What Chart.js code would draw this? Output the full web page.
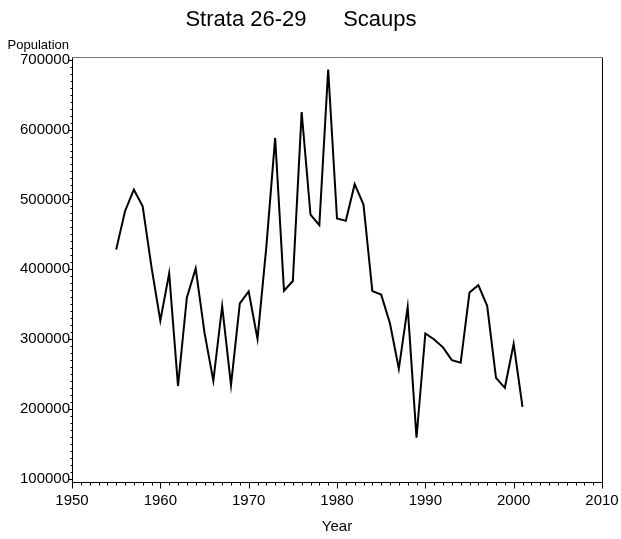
<!DOCTYPE html>
<html>
<head>
<meta charset="utf-8">
<script src="https://cdn.jsdelivr.net/npm/chart.js@4/dist/chart.umd.min.js"></script>
<style>
html,body{margin:0;padding:0;background:#fff;}
#wrap{width:621px;height:539px;position:relative;}
</style>
</head>
<body>
<div id="wrap"><canvas id="c" width="621" height="539"></canvas></div>
<script>
const titleText = 'Strata 26-29      Scaups';
const yAxisLabel = 'Population';
const xAxisLabel = 'Year';
const years = [1955,1956,1957,1958,1959,1960,1961,1962,1963,1964,1965,1966,1967,1968,1969,1970,
  1971,1972,1973,1974,1975,1976,1977,1978,1979,1980,1981,1982,1983,1984,1985,1986,1987,1988,1989,
  1990,1991,1992,1993,1994,1995,1996,1997,1998,1999,2000,2001];
const scaups = [428000,483000,514000,490000,403000,326000,394000,232500,359000,401000,309000,240000,
  347000,234000,351000,368000,300000,432000,588000,369000,383000,625000,478000,463000,686000,
  472600,469200,521700,492600,368500,363500,322200,257200,345600,158400,
  307900,299300,287900,269700,265800,366600,377100,347400,244300,230000,293000,202800];
const xTickLabels = [1950,1960,1970,1980,1990,2000,2010];
const yTickLabels = [100000,200000,300000,400000,500000,600000,700000];

const FONT = '"Liberation Sans", Arial, sans-serif';

const framePlugin = {
  id: 'frame',
  afterDraw(chart) {
    const {ctx, chartArea: a, scales} = chart;
    const xs = scales.x, ys = scales.y;
    ctx.save();
    ctx.lineWidth = 1;
    ctx.strokeStyle = '#000';
    ctx.beginPath();
    ctx.moveTo(a.left + 0.5, a.top);
    ctx.lineTo(a.left + 0.5, a.bottom + 0.5);
    ctx.lineTo(a.right + 0.5, a.bottom + 0.5);
    ctx.lineTo(a.right + 0.5, a.top);
    ctx.stroke();
    ctx.strokeStyle = '#777';
    ctx.beginPath();
    ctx.moveTo(a.left, a.top + 0.5);
    ctx.lineTo(a.right + 1, a.top + 0.5);
    ctx.stroke();
    // minor and major tick marks, placed through the scales
    ctx.strokeStyle = '#000';
    ctx.beginPath();
    for (let yr = xs.min; yr <= xs.max; yr++) {
      const px = Math.round(xs.getPixelForValue(yr)) + 0.5;
      const len = xTickLabels.includes(yr) ? 6 : 3;
      ctx.moveTo(px, a.bottom + 0.5);
      ctx.lineTo(px, a.bottom + 0.5 + len);
    }
    for (let v = 100000; v <= 700000; v += 10000) {
      const py = Math.round(ys.getPixelForValue(v)) + 0.5;
      const len = yTickLabels.includes(v) ? 4 : 2;
      ctx.moveTo(a.left + 0.5, py);
      ctx.lineTo(a.left + 0.5 - len, py);
    }
    ctx.stroke();
    ctx.fillStyle = '#000';
    ctx.font = '13px ' + FONT;
    ctx.textAlign = 'right';
    ctx.textBaseline = 'middle';
    ctx.fillText(yAxisLabel, a.left - 3, 45);
    ctx.restore();
  }
};

new Chart(document.getElementById('c'), {
  type: 'line',
  data: {
    datasets: [{
      data: years.map((y, i) => ({x: y, y: scaups[i]})),
      borderColor: '#000',
      borderWidth: 2,
      pointRadius: 0,
      tension: 0,
      fill: false
    }]
  },
  options: {
    responsive: false,
    animation: false,
    devicePixelRatio: 1,
    layout: {padding: {left: 0, right: 19, top: 0, bottom: 0}},
    plugins: {
      legend: {display: false},
      tooltip: {enabled: false},
      title: {
        display: true,
        text: titleText,
        color: '#000',
        font: {family: FONT, size: 22, weight: 'normal', lineHeight: 1.2},
        padding: {top: 7, bottom: 23.6}
      }
    },
    scales: {
      x: {
        type: 'linear',
        min: 1950, max: 2010,
        afterBuildTicks(s) { s.ticks = xTickLabels.map(v => ({value: v})); },
        afterFit(s) { s.height = 57; s.paddingLeft = 0; s.paddingRight = 0; },
        grid: {display: true, drawOnChartArea: false, drawTicks: false},
        border: {display: false},
        ticks: {
          autoSkip: false, maxRotation: 0, minRotation: 0,
          padding: 10, color: '#000',
          font: {family: FONT, size: 15},
          callback: v => String(v)
        },
        title: {
          display: true, text: xAxisLabel, color: '#000',
          font: {family: FONT, size: 15}, padding: {top: 0, bottom: 3}
        }
      },
      y: {
        type: 'linear',
        min: 95000, max: 704000,
        afterBuildTicks(s) { s.ticks = yTickLabels.map(v => ({value: v})); },
        afterFit(s) { s.width = 72; s.paddingTop = 0; s.paddingBottom = 0; },
        grid: {display: true, drawOnChartArea: false, drawTicks: false},
        border: {display: false},
        ticks: {
          autoSkip: false,
          padding: 2, color: '#000',
          font: {family: FONT, size: 15},
          callback: v => String(v)
        }
      }
    }
  },
  plugins: [framePlugin]
});
</script>
</body>
</html>
